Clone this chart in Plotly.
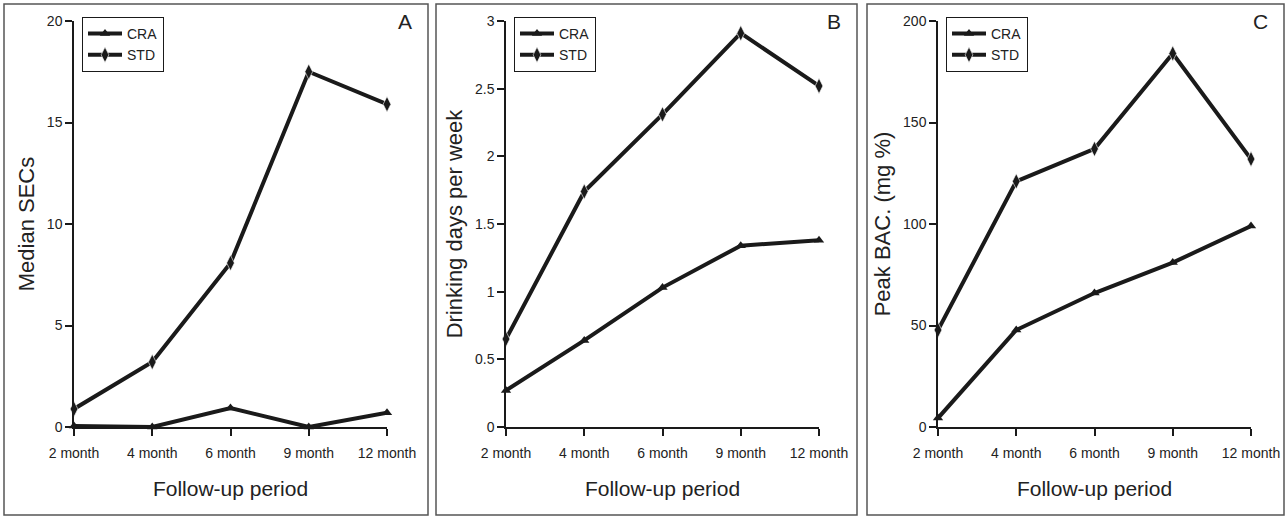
import plotly.graph_objects as go

W, H = 1288, 518
periods = ["2 month", "4 month", "6 month", "9 month", "12 month"]

secs_cra = [0.05, 0.0, 0.93, 0.0, 0.7]
secs_std = [0.89, 3.2, 8.08, 17.5, 15.9]

days_cra = [0.27, 0.64, 1.03, 1.34, 1.38]
days_std = [0.65, 1.74, 2.31, 2.91, 2.52]

bac_cra = [4.4, 47.8, 66, 81, 99]
bac_std = [47.8, 121, 137, 184, 132]

panels = [
    dict(cra=secs_cra, std=secs_std, title="Median SECs", rng=[0, 20], dtick=5,
         x0=74, x1=387, box=(4, 428), letter="A"),
    dict(cra=days_cra, std=days_std, title="Drinking days per week", rng=[0, 3], dtick=0.5,
         x0=506, x1=819, box=(436, 857), letter="B"),
    dict(cra=bac_cra, std=bac_std, title="Peak BAC. (mg %)", rng=[0, 200], dtick=50,
         x0=938, x1=1251, box=(867, 1284), letter="C"),
]

fig = go.Figure()
font = "Liberation Sans, Arial, sans-serif"
ytop, ybot = 21, 427

shapes = []
annotations = []
for i, p in enumerate(panels):
    n = "" if i == 0 else str(i + 1)
    leg = "legend" if i == 0 else f"legend{i+1}"
    fig.add_trace(go.Scatter(
        x=periods, y=p["cra"], name="CRA", mode="lines+markers",
        line=dict(color="#1a1a1a", width=4),
        marker=dict(symbol="triangle-up", size=9, color="#1a1a1a"),
        xaxis=f"x{n}", yaxis=f"y{n}", legend=leg, cliponaxis=False))
    fig.add_trace(go.Scatter(
        x=periods, y=p["std"], name="STD", mode="lines+markers",
        line=dict(color="#1a1a1a", width=4),
        marker=dict(symbol="diamond-tall", size=11, color="#1a1a1a",
                    line=dict(color="white", width=0.6)),
        xaxis=f"x{n}", yaxis=f"y{n}", legend=leg, cliponaxis=False))
    dom = [p["x0"] / W, p["x1"] / W]
    fig.update_layout(**{
        f"xaxis{n}": dict(domain=dom, anchor=f"y{n}", type="category", range=[0, 4],
                          automargin=False,
                          showgrid=False, zeroline=False, showline=True, linecolor="#1a1a1a",
                          linewidth=1.5, ticks="outside", ticklen=7, tickwidth=1.5,
                          tickcolor="#1a1a1a", tickfont=dict(size=14, color="#222", family=font),
                          ticklabelstandoff=5,
                          title=dict(text="Follow-up period", font=dict(size=21, color="#222", family=font),
                                     standoff=22)),
        f"yaxis{n}": dict(domain=[(H - ybot) / H, (H - ytop) / H], anchor=f"x{n}",
                          automargin=False,
                          range=p["rng"], dtick=p["dtick"], showgrid=False, zeroline=False,
                          showline=True, linecolor="#1a1a1a", linewidth=1.5, ticks="outside",
                          ticklen=7, tickwidth=1.5, tickcolor="#1a1a1a",
                          tickfont=dict(size=14, color="#222", family=font),
                          title=dict(text=p["title"], font=dict(size=22, color="#222", family=font),
                                     standoff=6)),
        leg: dict(x=(p["x0"] + 8) / W, y=(H - 17) / H, xanchor="left", yanchor="top",
                  bordercolor="#1a1a1a", borderwidth=1, bgcolor="white",
                  font=dict(size=14, color="#222", family=font), itemwidth=34,
                  tracegroupgap=0),
    })
    b0, b1 = p["box"]
    shapes.append(dict(type="rect", xref="paper", yref="paper",
                       x0=b0 / W, x1=b1 / W, y0=(H - 515) / H, y1=(H - 4) / H,
                       line=dict(color="#555", width=1.5)))
    annotations.append(dict(text=p["letter"], xref="paper", yref="paper",
                            x=(b1 - 14) / W, y=(H - 21) / H, xanchor="right", yanchor="middle",
                            showarrow=False, font=dict(size=21, color="#222", family=font)))

fig.update_layout(width=W, height=H, margin=dict(l=0, r=0, t=0, b=0),
                  plot_bgcolor="white", paper_bgcolor="white",
                  shapes=shapes, annotations=annotations, showlegend=True,
                  font=dict(family=font))
fig.write_html("out.html", config={"displayModeBar": False},
               post_script="document.body.style.margin='0';document.body.style.overflow='hidden';")
